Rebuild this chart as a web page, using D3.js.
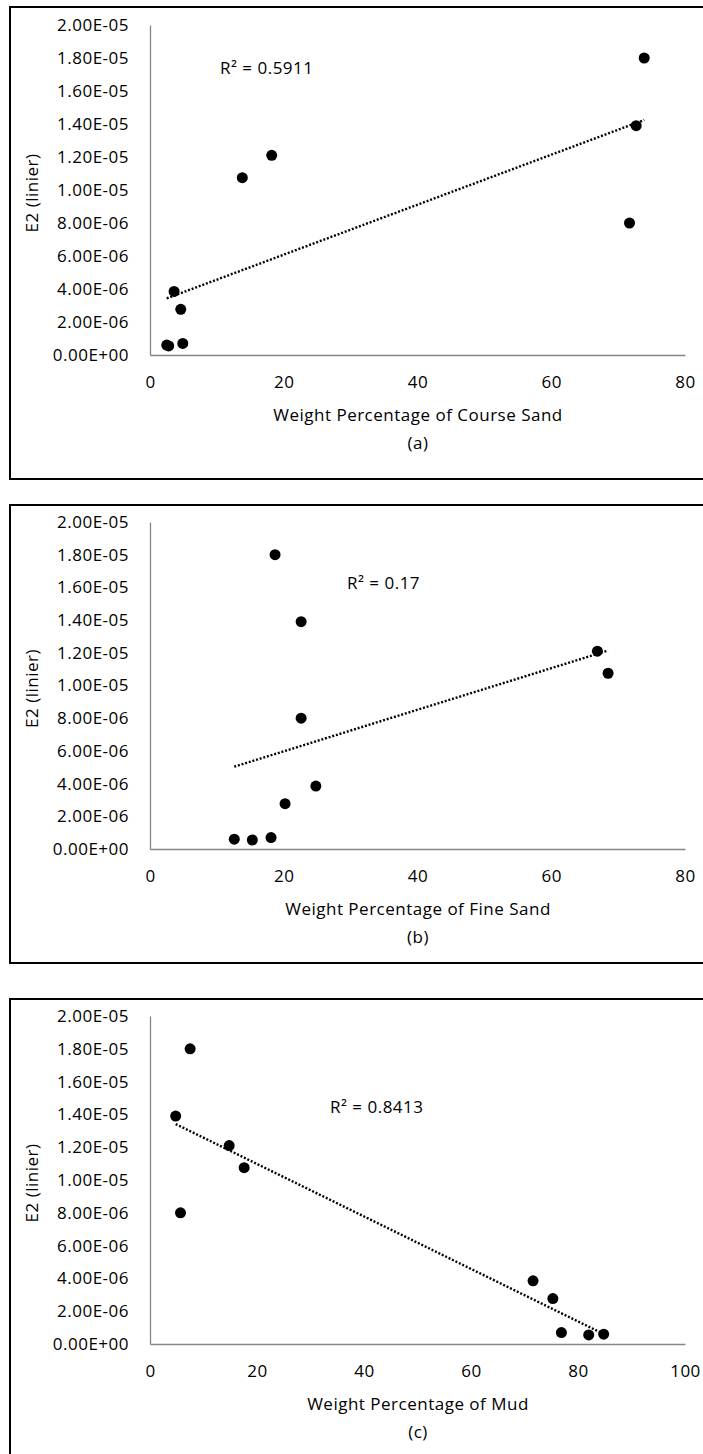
<!DOCTYPE html>
<html>
<head>
<meta charset="utf-8">
<script src="https://cdn.jsdelivr.net/npm/d3@7"></script>
<style>
body{margin:0;background:#fff;}
svg{display:block;font-family:"Open Sans",sans-serif;}
.axis path{stroke:#868686;stroke-width:1.3;}
.axis text{font-family:"Open Sans",sans-serif;font-size:17px;fill:#000;letter-spacing:0.5px;}
.lbl{font-size:17px;fill:#000;letter-spacing:0.5px;}
</style>
</head>
<body>
<svg id="chart" width="703" height="1454"></svg>
<script>
// E2 (linier) for the ten samples, same order in every panel
var e2Values   = [1.80e-5, 1.39e-5, 1.21e-5, 1.075e-5, 8.0e-6, 3.85e-6, 2.77e-6, 7.0e-7, 5.5e-7, 6.0e-7];
var courseSand = [73.9, 72.7, 18.2, 13.8, 71.7, 3.6, 4.6, 4.9, 2.8, 2.5];
var fineSand   = [18.7, 22.6, 66.9, 68.5, 22.6, 24.8, 20.2, 18.1, 15.3, 12.6];
var mud        = [7.5, 4.8, 14.8, 17.6, 5.7, 71.6, 75.3, 76.9, 82.0, 84.8];

var xTitles  = ["Weight Percentage of Course Sand", "Weight Percentage of Fine Sand", "Weight Percentage of Mud"];
var captions = ["(a)", "(b)", "(c)"];
var rSquared = ["R\u00b2 = 0.5911", "R\u00b2 = 0.17", "R\u00b2 = 0.8413"];

var yTicks = [0, 2e-6, 4e-6, 6e-6, 8e-6, 1e-5, 1.2e-5, 1.4e-5, 1.6e-5, 1.8e-5, 2e-5];
var yTickLabels = ["0.00E+00", "2.00E-06", "4.00E-06", "6.00E-06", "8.00E-06", "1.00E-05",
                   "1.20E-05", "1.40E-05", "1.60E-05", "1.80E-05", "2.00E-05"];
var xTicksSand = [0, 20, 40, 60, 80];
var xTicksMud  = [0, 20, 40, 60, 80, 100];

var panels = [
	{xs: courseSand, ticks: xTicksSand, top: 7,   bottom: 479,  axisTop: 25,   axisBottom: 355,  r2x: 220, r2y: 68},
	{xs: fineSand,   ticks: xTicksSand, top: 505, bottom: 963,  axisTop: 522,  axisBottom: 849,  r2x: 347, r2y: 583},
	{xs: mud,        ticks: xTicksMud,  top: 999, bottom: 1470, axisTop: 1016, axisBottom: 1344, r2x: 330, r2y: 1107}
];

function fit(xs, ys){
	var mx = d3.mean(xs), my = d3.mean(ys);
	var sxy = d3.sum(xs, function(x, i){ return (x - mx) * (ys[i] - my); });
	var sxx = d3.sum(xs, function(x){ return (x - mx) * (x - mx); });
	var b = sxy / sxx;
	return function(x){ return my - b * mx + b * x; };
}

var svg = d3.select("#chart");

panels.forEach(function(p, k){
	var g = svg.append("g");

	g.append("rect")
		.attr("x", 10).attr("y", p.top)
		.attr("width", 700).attr("height", p.bottom - p.top)
		.attr("fill", "none").attr("stroke", "#000").attr("stroke-width", 2);

	var xScale = d3.scaleLinear()
		.domain([0, d3.max(p.ticks)])
		.range([150, 685]);
	var yScale = d3.scaleLinear()
		.domain([0, 2e-5])
		.range([p.axisBottom, p.axisTop]);

	g.append("g")
		.attr("class", "axis")
		.attr("transform", "translate(150,0)")
		.call(d3.axisLeft(yScale).tickValues(yTicks)
			.tickFormat(function(d, i){ return yTickLabels[i]; })
			.tickSize(0).tickPadding(21));

	g.append("g")
		.attr("class", "axis")
		.attr("transform", "translate(0," + p.axisBottom + ")")
		.call(d3.axisBottom(xScale).tickValues(p.ticks)
			.tickSize(0).tickPadding(21));

	g.selectAll(".axis text").attr("fill", null);

	// linear trendline over the data range
	var line = fit(p.xs, e2Values);
	var ext = d3.extent(p.xs);
	g.append("path")
		.datum(ext)
		.attr("d", d3.line()
			.x(function(d){ return xScale(d); })
			.y(function(d){ return yScale(line(d)); }))
		.attr("fill", "none")
		.attr("stroke", "#000")
		.attr("stroke-width", 2.4)
		.attr("stroke-dasharray", "2,1.8");

	g.selectAll("circle.pt")
		.data(p.xs)
		.enter().append("circle")
		.attr("class", "pt")
		.attr("cx", function(d){ return xScale(d); })
		.attr("cy", function(d, i){ return yScale(e2Values[i]); })
		.attr("r", 5.5)
		.attr("fill", "#000");

	g.append("text")
		.attr("class", "lbl")
		.attr("x", p.r2x).attr("y", p.r2y).attr("dy", "0.35em")
		.text(rSquared[k]);

	g.append("text")
		.attr("class", "lbl")
		.attr("text-anchor", "middle")
		.attr("transform", "translate(32," + ((p.axisTop + p.axisBottom) / 2 + 3) + ") rotate(-90)")
		.attr("dy", "0.35em")
		.text("E2 (linier)");

	g.append("text")
		.attr("class", "lbl")
		.attr("text-anchor", "middle")
		.attr("x", 418).attr("y", p.axisBottom + 60).attr("dy", "0.35em")
		.text(xTitles[k]);

	g.append("text")
		.attr("class", "lbl")
		.attr("text-anchor", "middle")
		.attr("x", 418).attr("y", p.axisBottom + 88).attr("dy", "0.35em")
		.text(captions[k]);
});
</script>
</body>
</html>
